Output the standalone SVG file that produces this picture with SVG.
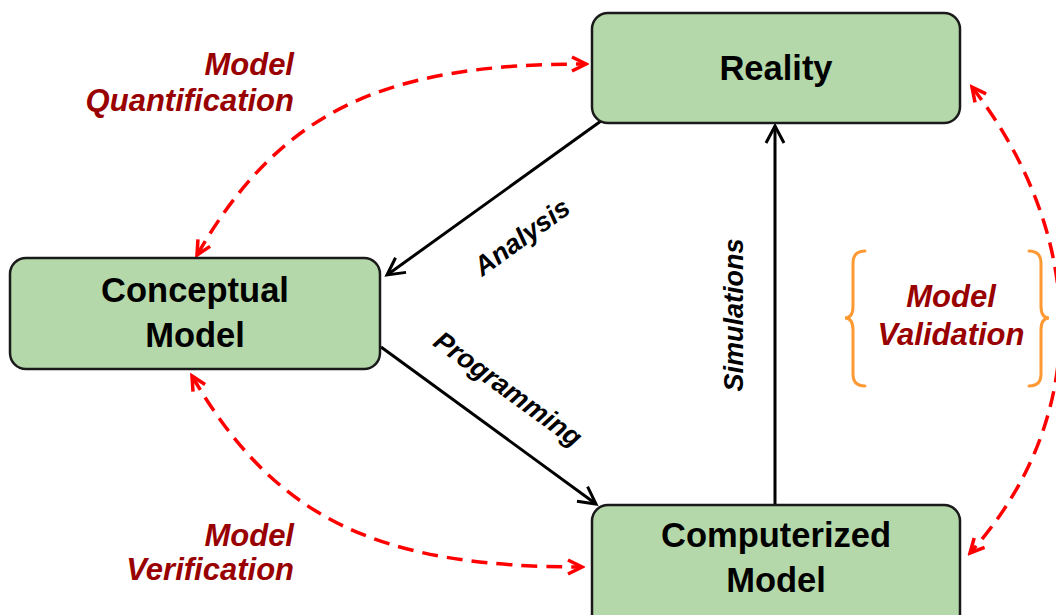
<svg xmlns="http://www.w3.org/2000/svg" width="1056" height="615" viewBox="0 0 1056 615">
<style>
.node rect{fill:#b4d8a9;stroke:#1a1a1a;stroke-width:2.5}
.ntext{font-family:"Liberation Sans",Arial,sans-serif;font-weight:bold;font-size:34.5px;fill:#000;text-anchor:middle}
.lbl{font-family:"Liberation Sans",Arial,sans-serif;font-weight:bold;font-style:italic;font-size:31px;fill:#990000}
.clbl{font-family:"Liberation Sans",Arial,sans-serif;font-weight:bold;font-style:italic;font-size:27px;fill:#000;text-anchor:middle}
.solid{fill:none;stroke:#000;stroke-width:3;marker-end:url(#ab)}
.dash{fill:none;stroke:#ff0000;stroke-width:3.5;stroke-dasharray:16 9;marker-start:url(#ar);marker-end:url(#ar)}
.brace{fill:none;stroke:#ff9933;stroke-width:3;stroke-linecap:round}
</style>
<defs>
<marker id="ab" markerUnits="userSpaceOnUse" markerWidth="24" markerHeight="24" refX="20" refY="12" orient="auto">
<path d="M3,3 L20,12 L3,21" fill="none" stroke="#000" stroke-width="3"/>
</marker>
<marker id="ar" markerUnits="userSpaceOnUse" markerWidth="20" markerHeight="20" refX="17" refY="10" orient="auto-start-reverse">
<path d="M3,3 L17,10 L3,17" fill="none" stroke="#ff0000" stroke-width="3.5"/>
</marker>
</defs>
<rect width="1056" height="615" fill="#fff"/>
<g id="connectors">
<path class="solid" d="M601,121 L387,275"/>
<path class="solid" d="M381,347 L596,504"/>
<path class="solid" d="M775,505 L775,126"/>
<path class="dash" d="M197,255 C282,108 387,64 586,64"/>
<path class="dash" d="M192,376 C277,522 382,567 582,567"/>
<path class="dash" d="M972,87 C1090,240 1090,420 970,553"/>
<text class="clbl" transform="translate(522,237) rotate(-36)" y="9">Analysis</text>
<text class="clbl" transform="translate(508,389) rotate(36)" y="9">Programming</text>
<text class="clbl" transform="translate(734,315) rotate(-90)" y="9">Simulations</text>
</g>
<g id="reality" class="node">
<rect x="592" y="13" width="368" height="110" rx="16"/>
<text class="ntext" x="776" y="80">Reality</text>
</g>
<g id="conceptual" class="node">
<rect x="10" y="258" width="370" height="111" rx="16"/>
<text class="ntext" x="195" y="302">Conceptual</text>
<text class="ntext" x="195" y="347">Model</text>
</g>
<g id="computerized" class="node">
<rect x="592" y="505" width="368" height="125" rx="16"/>
<text class="ntext" x="776" y="547">Computerized</text>
<text class="ntext" x="776" y="592">Model</text>
</g>
<g id="quantification">
<text class="lbl" x="294" y="75" text-anchor="end">Model</text>
<text class="lbl" x="294" y="111" text-anchor="end">Quantification</text>
</g>
<g id="verification">
<text class="lbl" x="294" y="546" text-anchor="end">Model</text>
<text class="lbl" x="294" y="580" text-anchor="end">Verification</text>
</g>
<g id="validation">
<path class="brace" d="M865,251 Q853,251 853,263 L853,306 Q853,318 845,318 Q853,318 853,330 L853,374 Q853,386 865,386"/>
<path class="brace" d="M1029,251 Q1041,251 1041,263 L1041,306 Q1041,318 1049,318 Q1041,318 1041,330 L1041,374 Q1041,386 1029,386"/>
<text class="lbl" x="951" y="307" text-anchor="middle">Model</text>
<text class="lbl" x="951" y="345" text-anchor="middle">Validation</text>
</g>
</svg>
